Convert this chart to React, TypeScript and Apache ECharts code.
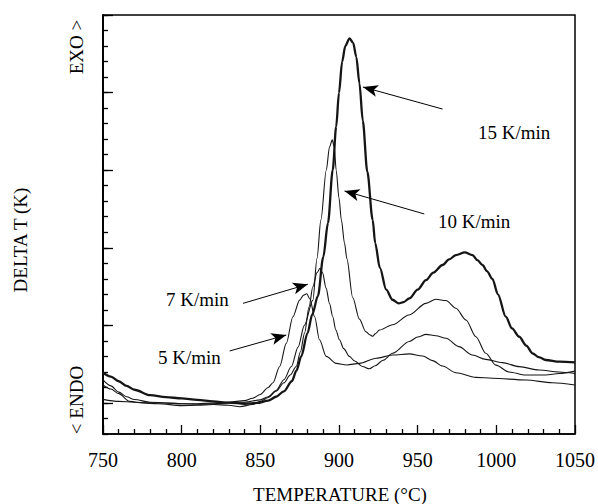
import React, { useEffect, useRef } from "react";
import * as echarts from "echarts";

// Temperature (°C) / DELTA T (arbitrary units)
const rate15: [number, number][] = [
  [750, 1.95], [755, 1.7], [760, 1.4], [765, 1.1], [770, 0.85], [780, 0.5], [790, 0.37], [800, 0.3],
  [810, 0.2], [820, 0.1], [830, 0.02], [840, -0.05], [848, 0], [855, 0.15], [860, 0.4], [865, 0.75],
  [870, 1.4], [873, 2.1], [876, 3.0], [880, 4.5], [883, 5.7], [886.6, 6.9], [890, 9.4], [893, 11.6],
  [896, 15.0], [898.2, 17.8], [900, 20.0], [902, 22.0], [904, 23.0], [906.7, 23.5], [909, 23.2],
  [911, 22.3], [913, 20.6], [915.1, 18.2], [918, 14.9], [921.4, 11.8], [923, 10.3], [926, 8.7],
  [930, 7.3], [934, 6.65], [938, 6.42], [941, 6.5], [944.7, 6.74], [950, 7.3], [955.3, 7.92],
  [960, 8.4], [965.8, 8.89], [970, 9.25], [974.3, 9.53], [980, 9.7], [984.8, 9.53], [988, 9.2],
  [991.2, 8.89], [994, 8.5], [997.5, 8.0], [1001, 7.0], [1006, 5.56], [1010, 4.8], [1014.5, 4.27],
  [1019, 3.7], [1023, 3.2], [1027, 2.95], [1031.4, 2.77], [1040, 2.66], [1050, 2.62],
];
const rate10: [number, number][] = [
  [750, 1.48], [755, 1.1], [760, 0.7], [765, 0.4], [770, 0.22], [780, 0.05], [790, 0.0], [800, -0.05],
  [810, -0.08], [820, -0.05], [830, 0.0], [840, 0.05], [850, 0.2], [855, 0.4], [860, 0.8], [865, 1.5],
  [869.7, 2.35], [874, 3.6], [878, 5.0], [883.4, 6.63], [886, 9.3], [888.5, 11.8], [891.9, 15.0],
  [894, 16.5], [895.7, 16.95], [897, 16.5], [898.2, 15.0], [900, 13.2], [901.5, 11.8], [903.5, 10.3],
  [905, 9.3], [908.7, 6.8], [913, 5.4], [917, 4.6], [919.5, 4.4], [921.4, 4.3], [923, 4.45],
  [925.7, 4.7], [934.1, 5.04], [944.5, 5.67], [955.3, 6.42], [961.6, 6.68], [968, 6.6], [974.3, 6.1],
  [980.7, 5.35], [987, 4.27], [993.3, 3.2], [999.7, 2.44], [1008, 2.0], [1018.7, 1.8], [1031.4, 1.8],
  [1040, 1.9], [1050, 2.05],
];
const rate7: [number, number][] = [
  [750, 1.16], [755, 0.9], [760, 0.6], [767, 0.1], [775, 0.0], [785, -0.05], [800, -0.17], [810, -0.15],
  [820, -0.1], [830, -0.15], [837, -0.24], [845, -0.1], [850, 0.1], [855, 0.35], [860, 0.75], [865, 1.3],
  [869, 1.8], [872.8, 2.35], [875.5, 3.3], [878.1, 4.5], [881, 6.2], [883.4, 7.5], [886, 8.4], [888, 8.68],
  [889.5, 8.4], [891.8, 7.4], [894, 6.4], [896, 5.56], [898, 4.7], [900.3, 4.07], [903, 3.5], [906.6, 3.0],
  [910, 2.7], [915, 2.35], [919.3, 2.2], [923, 2.4], [928, 2.75], [934.1, 3.2], [944.7, 3.96], [950, 4.25],
  [955.3, 4.42], [961.6, 4.33], [968, 4.17], [976.2, 3.63], [984.8, 3.09], [993.3, 2.81], [1003.9, 2.6],
  [1014.5, 2.34], [1027.2, 2.12], [1040, 2.0], [1050, 1.9],
];
const rate5: [number, number][] = [
  [750, 0.23], [760, 0.1], [770, 0.05], [780, 0.0], [790, 0.0], [800, -0.05], [810, -0.05], [820, 0.0],
  [830, 0.05], [840, 0.15], [845, 0.3], [850, 0.55], [855, 1.0], [858, 1.3], [862.3, 2.35], [866.5, 3.84],
  [870.7, 5.56], [875, 6.63], [877.5, 6.95], [879.5, 7.04], [881.5, 6.7], [884.5, 5.56], [887.6, 4.07],
  [891.9, 3.0], [898.2, 2.55], [905, 2.45], [913, 2.55], [923.6, 2.88], [934.1, 3.09], [944.7, 3.16],
  [953.1, 3.03], [959.5, 2.73], [965.8, 2.38], [974.3, 1.95], [987, 1.65], [997.5, 1.59], [1018.7, 1.48],
  [1035.6, 1.3], [1050, 1.16],
];

const seriesNames = ["15 K/min", "10 K/min", "7 K/min", "5 K/min"];
const xMin = 750;
const xMax = 1050;
const xStep = 50;
const yMin = -2;
const yMax = 25;
const yMajorTicks = [0, 5, 10, 15, 20, 25];

// Annotation arrows in data coordinates: [from, to]
const arrowFrom: [number, number][] = [[965.8, 18.94], [954.2, 12.18], [839.0, 6.42], [830.5, 3.35]];
const arrowTo: [number, number][] = [[915.2, 20.36], [903.5, 13.66], [880.2, 7.65], [866.5, 4.38]];

export default function App() {
  const ref = useRef<HTMLDivElement>(null);
  useEffect(() => {
    const chart = echarts.init(ref.current!, null, { renderer: "svg" });
    const font = "'Liberation Serif', 'Times New Roman', serif";
    const ink = "#151515";
    const datasets = [rate15, rate10, rate7, rate5];
    const labelPos = [
      { x: 478, y: 132 },
      { x: 438, y: 221 },
      { x: 166, y: 299 },
      { x: 158, y: 357 },
    ];
    chart.setOption({
      animation: false,
      backgroundColor: "#fff",
      grid: { left: 103, right: 22, top: 15, bottom: 70, show: true, borderColor: "#000", borderWidth: 1.5 },
      xAxis: {
        type: "value",
        min: xMin,
        max: xMax,
        interval: xStep,
        position: "bottom",
        axisLine: { show: true, onZero: false, lineStyle: { color: "#000", width: 1.5 } },
        axisTick: { show: true, inside: true, length: 9, lineStyle: { color: "#000", width: 1.3 } },
        minorTick: { show: true, splitNumber: 5, length: 5, lineStyle: { color: "#000", width: 1.3 } },
        splitLine: { show: false },
        minorSplitLine: { show: false },
        axisLabel: { color: "#000", fontFamily: font, fontSize: 20, margin: 16, formatter: (v: number) => String(v) },
      },
      yAxis: [
        {
          type: "value",
          min: yMin,
          max: yMax,
          interval: 1,
          position: "left",
          axisLine: { show: true, onZero: false, lineStyle: { color: "#000", width: 1.5 } },
          axisTick: { show: true, inside: true, length: 5, lineStyle: { color: "#000", width: 1.3 } },
          axisLabel: { show: false },
          splitLine: { show: false },
        },
        {
          type: "value",
          min: yMin,
          max: yMax,
          position: "left",
          offset: 0,
          axisLine: { show: true, onZero: false, lineStyle: { color: "#000", width: 1.5 } },
          axisTick: { show: true, inside: true, length: 10, customValues: yMajorTicks, lineStyle: { color: "#000", width: 1.3 } },
          axisLabel: { show: false },
          splitLine: { show: false },
        },
      ],
      series: datasets.map((d, i) => ({
        name: seriesNames[i],
        type: "line",
        yAxisIndex: 0,
        data: d,
        showSymbol: false,
        smooth: 0.3,
        smoothMonotone: "x",
        lineStyle: { color: ink, width: i === 0 ? 2.3 : 1.1 },
        silent: true,
        markLine:
          i === 0
            ? {
                silent: true,
                animation: false,
                symbol: ["none", "arrow"],
                symbolSize: [9, 15],
                lineStyle: { color: "#000", width: 1, type: "solid" },
                label: { show: false },
                data: arrowFrom.map((f, k) => [{ coord: f }, { coord: arrowTo[k] }]),
              }
            : undefined,
      })),
      graphic: [
        ...seriesNames.map((n, i) => ({
          type: "text",
          x: labelPos[i].x,
          y: labelPos[i].y,
          style: { text: n, fill: "#000", font: `19px ${font}`, textAlign: "left", textVerticalAlign: "middle" },
        })),
        {
          type: "text",
          x: 340,
          y: 494,
          style: { text: "TEMPERATURE (°C)", fill: "#000", font: `19px ${font}`, textAlign: "center", textVerticalAlign: "middle" },
        },
        {
          type: "text",
          x: 20,
          y: 240,
          rotation: Math.PI / 2,
          style: { text: "DELTA T (K)", fill: "#000", font: `19px ${font}`, textAlign: "center", textVerticalAlign: "middle" },
        },
        {
          type: "text",
          x: 76,
          y: 47,
          rotation: Math.PI / 2,
          style: { text: "EXO >", fill: "#000", font: `19px ${font}`, textAlign: "center", textVerticalAlign: "middle" },
        },
        {
          type: "text",
          x: 76,
          y: 400,
          rotation: Math.PI / 2,
          style: { text: "< ENDO", fill: "#000", font: `19px ${font}`, textAlign: "center", textVerticalAlign: "middle" },
        },
      ],
    });
    return () => chart.dispose();
  }, []);
  return <div ref={ref} style={{ position: "fixed", left: 0, top: 0, width: 598, height: 504 }} />;
}
